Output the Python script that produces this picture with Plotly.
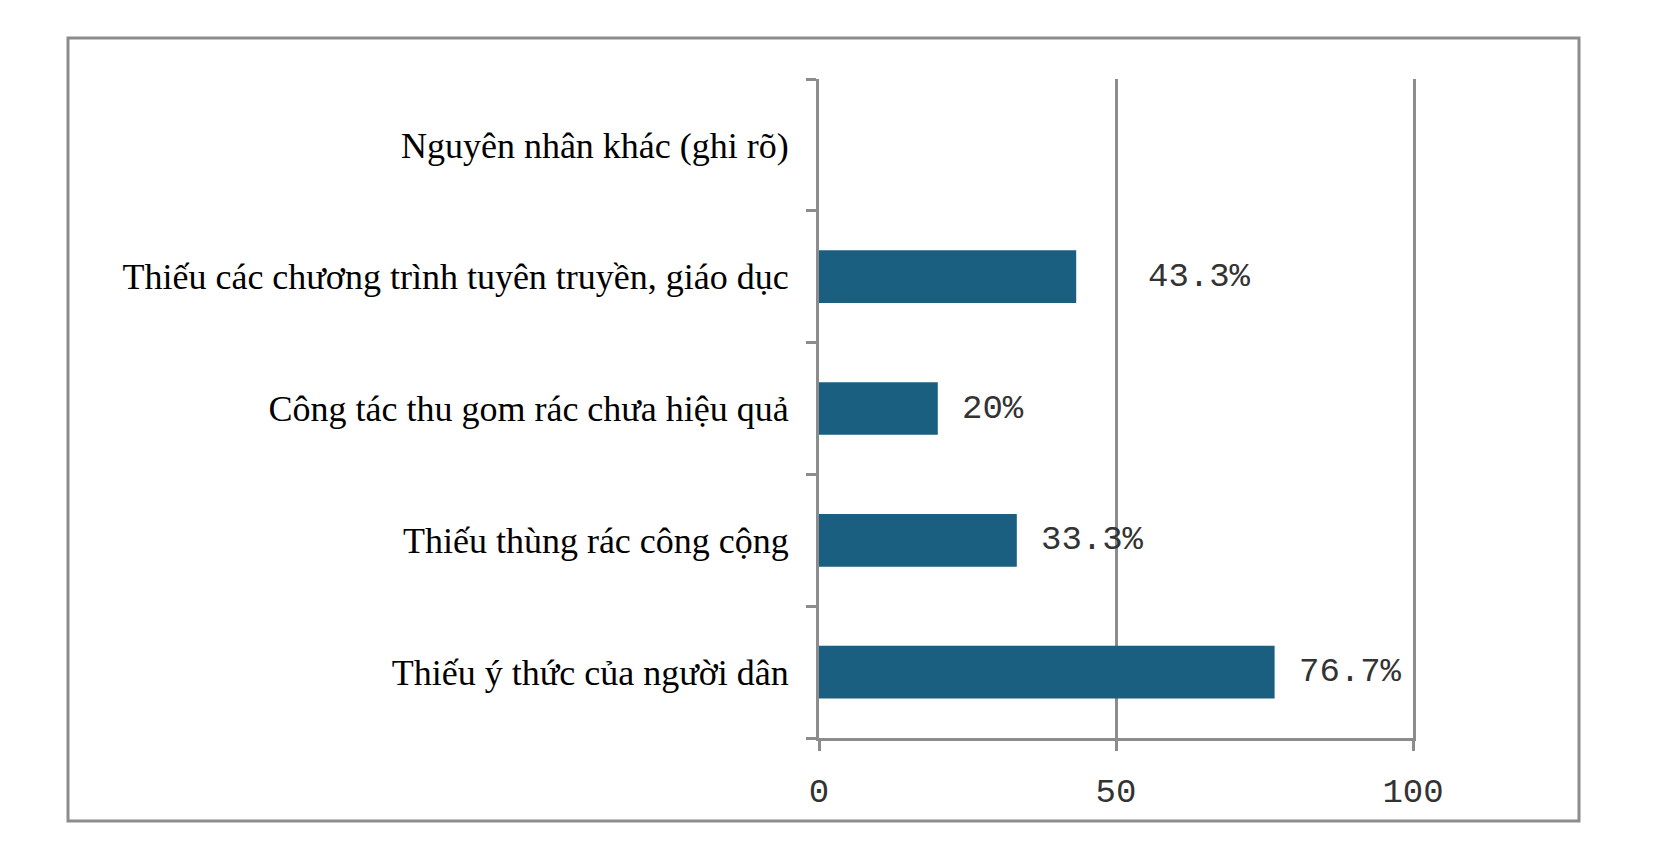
import plotly.graph_objects as go

# dữ liệu (từ dưới lên trên)
nguyen_nhan = [
    "Thiếu ý thức của người dân",
    "Thiếu thùng rác công cộng",
    "Công tác thu gom rác chưa hiệu quả",
    "Thiếu các chương trình tuyên truyền, giáo dục",
    "Nguyên nhân khác (ghi rõ)",
]
ty_le = [76.7, 33.3, 20, 43.3, 0]
nhan_ty_le = ["76.7%", "33.3%", "20%", "43.3%", ""]

W, H = 1658, 865
# vùng vẽ tính theo pixel
left, right, top, bottom = 811, 1405, 71, 730
GRAY = "#8c8c8c"


def px_x(px):
    return (px - left) / (right - left)


def px_y(py):
    return (bottom - py) / (bottom - top)


fig = go.Figure()
fig.add_trace(go.Bar(
    x=ty_le, y=nguyen_nhan, orientation="h",
    marker=dict(color="#1a5e80", line=dict(width=0)),
    width=0.4, hoverinfo="x+y",
))

# nhãn giá trị (nhãn 43.3% bị lệch sang phải như bản gốc)
dich = [22, 22, 22, 70, 22]
for v, cat, t, d in zip(ty_le, nguyen_nhan, nhan_ty_le, dich):
    if not t:
        continue
    fig.add_annotation(x=v, y=cat, text=t, showarrow=False, xanchor="left",
                       xshift=d, font=dict(family="Liberation Mono", size=34, color="#333333"))

# khung viền ngoài
fig.add_shape(type="rect", xref="paper", yref="paper",
              x0=px_x(60), x1=px_x(1571), y0=px_y(813), y1=px_y(30),
              line=dict(color=GRAY, width=3), layer="below")

fig.update_layout(
    width=W, height=H,
    margin=dict(l=left, r=W - right, t=top, b=H - bottom, pad=0),
    plot_bgcolor="white", paper_bgcolor="white",
    showlegend=False, bargap=0.6,
)
fig.update_xaxes(
    range=[0, 100], dtick=50, showgrid=True, gridcolor=GRAY, gridwidth=3,
    zeroline=False, showline=True, linecolor=GRAY, linewidth=3,
    ticks="outside", ticklen=10, tickwidth=3, tickcolor=GRAY,
    tickfont=dict(family="Liberation Mono", size=34, color="#333333"),
    ticklabelstandoff=10,
)
fig.update_yaxes(
    type="category", showgrid=False, showline=True, linecolor=GRAY, linewidth=3,
    mirror=True,
    ticks="outside", tickson="boundaries", ticklen=10, tickwidth=3, tickcolor=GRAY,
    tickfont=dict(family="Liberation Serif", size=36, color="black"),
    ticklabelstandoff=20,
)

fig.write_html("out.html")
